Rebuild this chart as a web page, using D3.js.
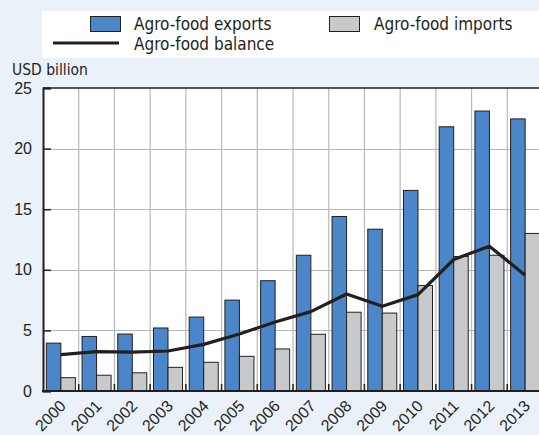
<!DOCTYPE html>
<html>
<head>
<meta charset="utf-8">
<script src="https://cdn.jsdelivr.net/npm/d3@7"></script>
<style>
  html, body { margin: 0; padding: 0; background: #eaf1f9; }
  svg { display: block; font-family: "DejaVu Sans Condensed", "DejaVu Sans", sans-serif; font-stretch: condensed; }
</style>
</head>
<body>
<div id="chart"></div>
<script>
// Data
const years = ['2000', '2001', '2002', '2003', '2004', '2005', '2006', '2007', '2008', '2009', '2010', '2011', '2012', '2013'];
const exportsVals = [3.95, 4.5, 4.7, 5.2, 6.1, 7.5, 9.1, 11.2, 14.4, 13.35, 16.55, 21.8, 23.1, 22.45];
const importsVals = [1.1, 1.3, 1.5, 1.95, 2.37, 2.86, 3.47, 4.68, 6.5, 6.43, 8.7, 11.1, 11.2, 13.0];
const balanceVals = [3.0, 3.25, 3.2, 3.3, 3.85, 4.7, 5.7, 6.55, 8.0, 7.0, 7.95, 10.85, 11.95, 9.55];
const yTicks = [0, 5, 10, 15, 20, 25];

const W = 539, H = 435;
const plot = { left: 43, top: 88, right: 543, bottom: 391 };

const svg = d3.select('#chart')
    .append('svg')
    .attr('width', W)
    .attr('height', H);

// Legend box
svg.append('rect')
    .attr('x', 42).attr('y', 11)
    .attr('width', W - 42).attr('height', 47)
    .attr('fill', '#ffffff');

const legend = svg.append('g').style('font-size', '17px').attr('fill', '#231f20');
legend.append('rect')
    .attr('x', 90.5).attr('y', 16.5).attr('width', 30).attr('height', 15)
    .attr('fill', '#4a86c8').attr('stroke', '#231f20').attr('stroke-width', 1);
legend.append('text').attr('x', 134).attr('y', 30).text('Agro-food exports');
legend.append('rect')
    .attr('x', 329.5).attr('y', 16.5).attr('width', 30).attr('height', 15)
    .attr('fill', '#c8c9cb').attr('stroke', '#231f20').attr('stroke-width', 1);
legend.append('text').attr('x', 374).attr('y', 30).text('Agro-food imports');
legend.append('line')
    .attr('x1', 53).attr('x2', 119).attr('y1', 43).attr('y2', 43)
    .attr('stroke', '#231f20').attr('stroke-width', 3);
legend.append('text').attr('x', 134).attr('y', 50).text('Agro-food balance');

// Scales
const x = d3.scaleBand()
    .domain(years)
    .range([plot.left, plot.right]);

const sub = d3.scaleBand()
    .domain(['exp', 'imp'])
    .range([0, x.bandwidth()])
    .paddingOuter(0.23)
    .paddingInner(0);

const y = d3.scaleLinear()
    .domain([0, 25])
    .range([plot.bottom, plot.top]);

// Plot background
svg.append('rect')
    .attr('x', plot.left).attr('y', plot.top)
    .attr('width', plot.right - plot.left).attr('height', plot.bottom - plot.top)
    .attr('fill', '#ffffff');

// Gridlines
svg.append('g')
    .selectAll('line.h')
    .data(yTicks.filter(d => d > 0 && d < 25))
    .join('line')
    .attr('x1', plot.left).attr('x2', plot.right)
    .attr('y1', d => Math.round(y(d)) + 0.5).attr('y2', d => Math.round(y(d)) + 0.5)
    .attr('stroke', '#b8b8b8').attr('stroke-width', 1.2);

svg.append('g')
    .selectAll('line.v')
    .data(years.slice(1))
    .join('line')
    .attr('x1', d => x(d)).attr('x2', d => x(d))
    .attr('y1', plot.top).attr('y2', plot.bottom)
    .attr('stroke', '#b8b8b8').attr('stroke-width', 1.2);

// Bars
const groups = svg.append('g')
    .selectAll('g')
    .data(years.map((yr, i) => ({ yr, exp: exportsVals[i], imp: importsVals[i] })))
    .join('g')
    .attr('transform', d => `translate(${x(d.yr)},0)`);

groups.append('rect')
    .attr('x', sub('exp'))
    .attr('y', d => y(d.exp))
    .attr('width', sub.bandwidth())
    .attr('height', d => y(0) - y(d.exp))
    .attr('fill', '#4a86c8')
    .attr('stroke', '#231f20').attr('stroke-width', 1);

groups.append('rect')
    .attr('x', sub('imp'))
    .attr('y', d => y(d.imp))
    .attr('width', sub.bandwidth())
    .attr('height', d => y(0) - y(d.imp))
    .attr('fill', '#c8c9cb')
    .attr('stroke', '#231f20').attr('stroke-width', 1);

// Balance line
const line = d3.line()
    .x((d, i) => x(years[i]) + x.bandwidth() / 2)
    .y(d => y(d));

svg.append('path')
    .datum(balanceVals)
    .attr('fill', 'none')
    .attr('stroke', '#231f20')
    .attr('stroke-width', 3.2)
    .attr('stroke-linejoin', 'round')
    .attr('d', line);

// Frame: top border
svg.append('line')
    .attr('x1', plot.left).attr('x2', plot.right)
    .attr('y1', plot.top).attr('y2', plot.top)
    .attr('stroke', '#231f20').attr('stroke-width', 1.5);

// Y axis
const yAxis = svg.append('g')
    .attr('transform', `translate(${plot.left},0)`)
    .call(d3.axisLeft(y).tickValues(yTicks).tickSize(-8).tickPadding(11));
yAxis.select('.domain').attr('stroke', '#231f20').attr('stroke-width', 2);
yAxis.selectAll('.tick line').attr('stroke', '#231f20').attr('stroke-width', 1.5);
yAxis.selectAll('.tick text')
    .style('font-size', '16px')
    .attr('fill', '#231f20');

// X axis
const xAxis = svg.append('g')
    .attr('transform', `translate(0,${plot.bottom})`)
    .call(d3.axisBottom(x).tickSize(0).tickPadding(0));
xAxis.select('.domain').remove();
xAxis.selectAll('.tick text')
    .style('font-size', '16px')
    .attr('fill', '#231f20')
    .style('text-anchor', 'end')
    .attr('dy', '0')
    .attr('transform', 'translate(6,16) rotate(-45)');

// Small tick marks at band boundaries
svg.append('g')
    .selectAll('line')
    .data(years.slice(1))
    .join('line')
    .attr('x1', d => x(d)).attr('x2', d => x(d))
    .attr('y1', plot.bottom).attr('y2', plot.bottom - 7)
    .attr('stroke', '#231f20').attr('stroke-width', 1.5);

svg.append('line')
    .attr('x1', plot.left - 1).attr('x2', plot.right)
    .attr('y1', plot.bottom).attr('y2', plot.bottom)
    .attr('stroke', '#231f20').attr('stroke-width', 2.2);

// Unit label
svg.append('text')
    .attr('x', 12).attr('y', 75)
    .style('font-size', '15.5px')
    .attr('fill', '#231f20')
    .text('USD billion');
</script>
</body>
</html>
